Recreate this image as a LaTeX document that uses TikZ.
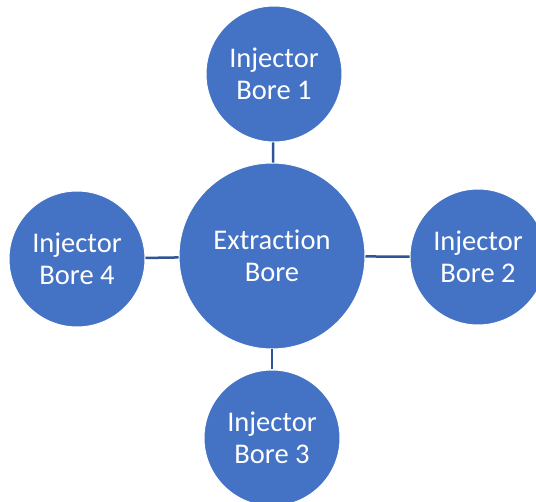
\documentclass[tikz,border=0pt]{standalone}
\usepackage{fontspec}
\setmainfont[Ligatures=NoCommon]{Carlito}
\usepackage{xcolor}
\usetikzlibrary{positioning}
\definecolor{borefill}{HTML}{4472C4}
\definecolor{boreline}{HTML}{2F5597}

\begin{document}
\begin{tikzpicture}[x=1pt,y=-1pt,
  bore/.style={circle, fill=borefill, draw=white, line width=1pt, text=white,
    align=center, inner sep=0pt, font=\fontsize{28.5}{32}\selectfont},
  link/.style={boreline, line width=2.5pt}]
\useasboundingbox (0,0) rectangle (536,502);
\node[bore, minimum size=186pt] (extract) at (272,256) {Extraction\\Bore};
\node[bore, minimum size=136pt] (inj1) at (274,74) {Injector\\Bore 1};
\node[bore, minimum size=136pt] (inj2) at (478,257) {Injector\\Bore 2};
\node[bore, minimum size=136pt] (inj3) at (272,438) {Injector\\Bore 3};
\node[bore, minimum size=136pt] (inj4) at (77,259) {Injector\\Bore 4};
% spokes
\draw[link] (inj1) -- (extract);
\draw[link] (inj2) -- (extract);
\draw[link] (inj3) -- (extract);
\draw[link] (inj4) -- (extract);
\end{tikzpicture}
\end{document}
